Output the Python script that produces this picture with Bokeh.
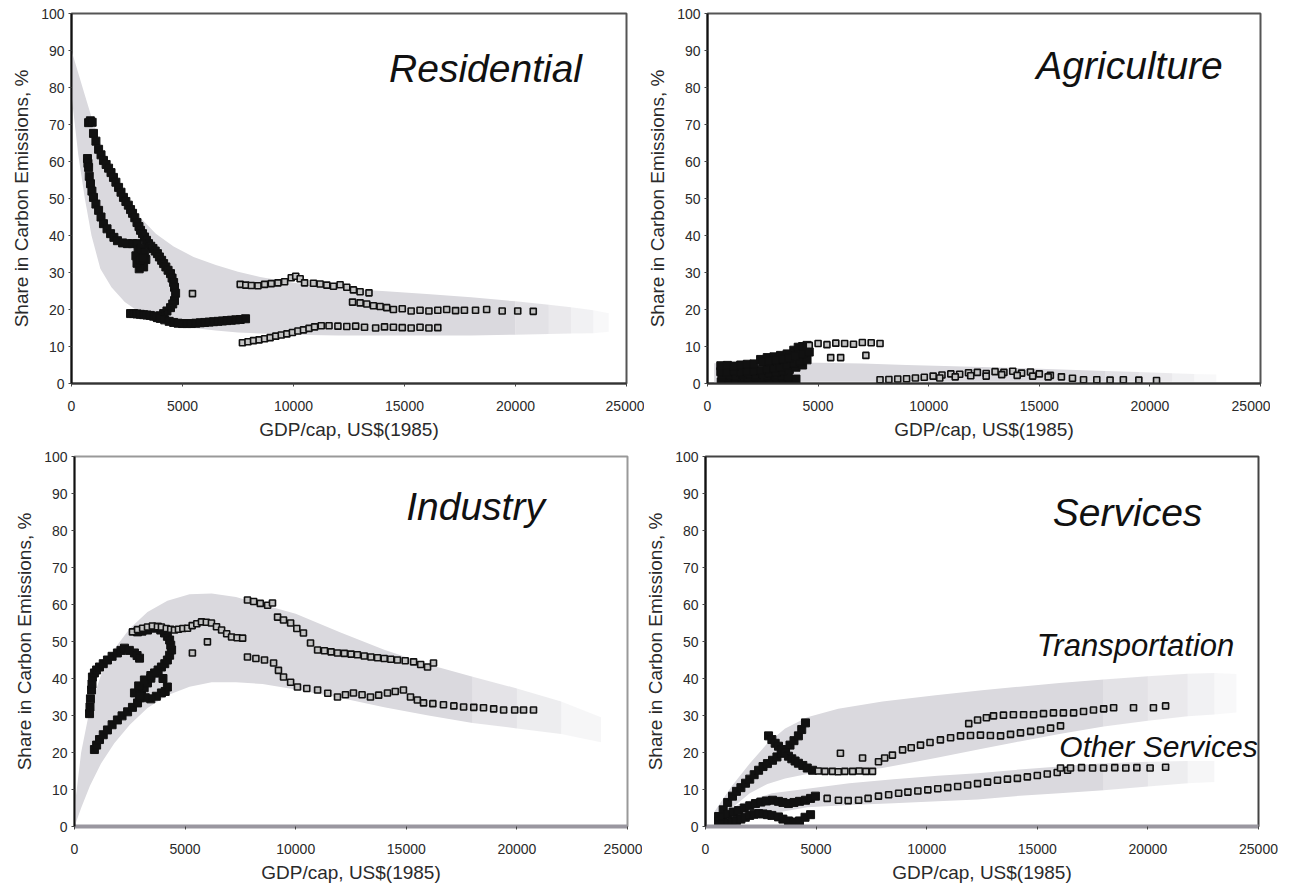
from bokeh.plotting import figure
from bokeh.layouts import column, row
from bokeh.models import Range1d, FixedTicker, Label
from bokeh.embed import file_html
from bokeh.resources import INLINE

# ---------------- axes ----------------
x_ticks = [0, 5000, 10000, 15000, 20000, 25000]
y_ticks = [0, 10, 20, 30, 40, 50, 60, 70, 80, 90, 100]
x_title = "GDP/cap, US$(1985)"
y_title = "Share in Carbon Emissions, %"

# ---------------- Residential ----------------
res_band_x = [0, 300, 600, 900, 1300, 1800, 2400, 3000, 3800, 4600, 5500, 6500, 7500, 8500,
              10000, 12000, 14000, 16000, 18000, 20000, 21500, 22500, 23500, 24200]
res_band_hi = [90, 84, 78, 72, 65, 58, 51, 45.5, 40.5, 37, 34.2, 32, 30.2, 28.8,
               27.2, 25.7, 25, 24.2, 23.3, 22.2, 21.3, 20.6, 19.8, 19]
res_band_lo = [78, 62, 50, 40, 31, 26, 22, 19.5, 17.5, 16, 15, 14.3, 13.8, 13.5,
               13.2, 13, 13, 13, 13, 13.2, 13.4, 13.5, 13.6, 14]

res_a_x = [770, 850, 930, 990, 1100, 1220, 1330, 1440, 1560, 1670, 1780, 1890, 2000, 2120, 2230,
           2340, 2450, 2560, 2660, 2750, 2850, 2950, 3040, 3110, 3200, 3290, 3380, 3470, 3570,
           3670, 3770, 3870, 3960, 4060, 4150, 4250, 4350, 4460, 4530, 4600, 4640, 4690, 4640,
           4560, 4460, 4300, 4150, 4000, 3870]
res_a_y = [70.5, 71, 70.6, 67.6, 65.5, 63.3, 61.8, 60.3, 59.2, 58.2, 57, 55.7, 54.4, 53, 51.7,
           50.3, 49.2, 48.2, 47, 46, 44.8, 43.5, 42.4, 41.4, 40.5, 39.6, 38.7, 37.8, 37.1,
           36.5, 35.8, 35.1, 34.2, 33.3, 32.4, 31.5, 30.6, 29.7, 28.5, 27.3, 26, 24.4, 22.4,
           21.5, 20.5, 19.6, 18.9, 18.3, 17.8]
res_b_x = [720, 740, 770, 800, 855, 920, 990, 1100, 1220, 1330, 1440, 1600, 1760, 1910, 2070,
           2300, 2520, 2750, 2970, 2900, 3000, 3150, 3300, 3350, 3250, 3050, 2950, 3100, 3200]
res_b_y = [60.8, 59.5, 58.4, 56, 54, 52, 50.3, 48.5, 46.8, 45, 43.2, 41.8, 40.5, 39.5, 38.6,
           38, 37.8, 37.8, 37.8, 34.5, 36, 36.5, 35.5, 33.5, 31.5, 31, 32.5, 33.5, 34]
res_c_x = [2660, 2800, 2950, 3100, 3250, 3400, 3550, 3700, 3850, 4000, 4200, 4400, 4600, 4800,
           5000, 5200, 5400, 5600, 5800, 6000, 6200, 6400, 6600, 6800, 7000, 7200, 7400, 7600, 7840]
res_c_y = [18.9, 18.9, 18.8, 18.7, 18.6, 18.5, 18.4, 18.2, 18, 17.6, 17.2, 16.8, 16.5, 16.3,
           16.2, 16.2, 16.2, 16.3, 16.4, 16.5, 16.6, 16.7, 16.8, 16.9, 17, 17.1, 17.2, 17.3, 17.5]
res_d_x = [7600, 7850, 8100, 8400, 8700, 9000, 9300, 9600, 9900, 10100, 10300, 10500, 10900,
           11200, 11500, 11800, 12100, 12400, 12700, 13000, 13400]
res_d_y = [26.8, 26.6, 26.5, 26.4, 26.8, 27.0, 27.2, 27.5, 28.6, 29.0, 28.3, 27.2, 27.1,
           26.9, 26.6, 26.3, 26.7, 26.0, 25.3, 24.8, 24.5]
res_e_x = [12660, 13000, 13300, 13600, 13900, 14200, 14500, 14900, 15300, 15700, 16100, 16500,
           16900, 17300, 17700, 18200, 18700, 19400, 20100, 20800]
res_e_y = [22.0, 21.8, 21.5, 21.0, 20.8, 20.5, 20.0, 20.2, 19.6, 19.8, 19.6, 19.8, 20.0,
           19.7, 19.8, 19.8, 20.0, 19.6, 19.6, 19.5]
res_f_x = [7700, 7950, 8200, 8450, 8700, 8950, 9200, 9450, 9700, 9950, 10200, 10450, 10700,
           10950, 11250, 11600, 12000, 12400, 12800, 13200, 13700, 14100, 14500, 14900, 15300,
           15700, 16100, 16500]
res_f_y = [11.0, 11.3, 11.6, 11.8, 12.1, 12.4, 12.8, 13.1, 13.4, 13.8, 14.2, 14.5, 14.9,
           15.3, 15.6, 15.6, 15.5, 15.4, 15.5, 15.2, 15.0, 15.3, 15.2, 15.1, 15.0, 15.2, 15.0, 15.1]
res_g_x = [5450]
res_g_y = [24.3]

# ---------------- Agriculture ----------------
agr_band_x = [300, 1000, 3000, 5000, 7000, 9000, 12000, 15000, 18000, 19500, 21000, 22000, 23000]
agr_band_hi = [5.5, 5.7, 5.7, 5.6, 5.4, 5.0, 4.5, 4.0, 3.4, 3.1, 2.8, 2.6, 2.4]
agr_band_lo = [0.3, 0.3, 0.4, 0.5, 0.5, 0.5, 0.5, 0.5, 0.5, 0.5, 0.5, 0.5, 0.5]

agr_a_x = [600, 900, 1200, 1500, 1800, 2100, 2400, 2700, 3000, 3300, 3600, 3900, 4100, 4300, 4500]
agr_a_y = [4.8, 4.9, 4.7, 5.0, 5.2, 5.3, 6.5, 7.0, 7.2, 7.6, 8.0, 9.0, 9.8, 10.0, 10.3]
agr_b_x = [600, 900, 1200, 1500, 1800, 2100, 2400, 2700, 3000, 3300, 3600, 3900, 4200, 4500]
agr_b_y = [3.2, 3.0, 3.4, 3.1, 3.3, 3.5, 3.6, 4.0, 4.3, 4.5, 5.0, 5.5, 6.0, 6.4]
agr_c_x = [650, 950, 1250, 1550, 1850, 2150, 2450, 2750, 3050, 3350, 3650]
agr_c_y = [1.2, 1.5, 1.0, 1.4, 1.6, 1.8, 1.5, 1.9, 2.2, 2.0, 1.8]
agr_g_x = [620, 900, 1180, 1460, 1740, 2020, 2300, 2580, 2860, 3140, 3420, 3700, 4000]
agr_g_y = [0.4, 0.5, 0.3, 0.6, 0.4, 0.5, 0.7, 0.5, 0.6, 0.8, 0.5, 0.9, 1.2]
agr_h_x = [700, 1000, 1300, 1600, 1900, 2200, 2500, 2800, 3100, 3400, 3700, 4000, 4300]
agr_h_y = [2.2, 2.4, 2.1, 2.5, 2.6, 2.3, 2.7, 2.9, 3.1, 3.4, 3.8, 4.4, 5.0]
agr_i_x = [2500, 2800, 3100, 3400, 3700, 4000, 4300, 4600]
agr_i_y = [5.8, 6.0, 6.3, 6.6, 7.0, 7.5, 8.0, 8.5]
agr_d_x = [4600, 5000, 5400, 5800, 6200, 6600, 7000, 7400, 7800, 5570, 6020, 7160]
agr_d_y = [10.3, 10.8, 10.5, 10.9, 10.8, 10.6, 11.1, 11.0, 10.8, 7.0, 7.0, 7.6]
agr_e_x = [7800, 8200, 8600, 9000, 9400, 9800, 10200, 10600, 11000, 11400, 11800, 12200, 12600,
           13000, 13400, 13800, 14200, 14600, 15000, 15500, 16000, 16500, 17000, 17600, 18200,
           18800, 19500, 20300]
agr_e_y = [1.0, 1.1, 1.2, 1.3, 1.5, 1.7, 2.0, 2.3, 2.6, 2.5, 2.9, 3.0, 2.7, 3.2, 3.0, 3.3,
           2.8, 3.1, 2.6, 2.2, 1.8, 1.4, 1.0, 1.0, 0.9, 1.0, 0.9, 0.8]
agr_f_x = [10500, 11200, 11900, 12600, 13300, 14000, 14700, 15400]
agr_f_y = [1.5, 1.8, 2.1, 2.0, 2.4, 2.2, 2.0, 1.8]

# ---------------- Industry ----------------
ind_band_x = [0, 300, 700, 1200, 1800, 2500, 3300, 4200, 5200, 6200, 7300, 8500, 10000, 12000,
              14000, 16000, 18000, 20000, 22000, 23800]
ind_band_hi = [5, 20, 32, 41, 48, 53.5, 58, 61, 62.8, 63, 62, 60, 57.5, 52.5,
               47.8, 43.8, 40.5, 37.3, 33.8, 29.5]
ind_band_lo = [0, 5, 11, 17, 22.5, 27.5, 32, 35.5, 37.8, 39, 39, 38.5, 37, 34.8,
               32.2, 30, 28, 26.5, 25, 22.8]

ind_a_x = [900, 1000, 1130, 1300, 1490, 1700, 1940, 2150, 2400, 2620, 2850, 2950, 3030, 3150,
           3300, 3450, 3620, 3780, 3930, 4080, 4200, 4300, 4390, 4350, 4300, 4200, 4070, 3900,
           3750, 3550, 3300, 3050, 2850]
ind_a_y = [20.8, 22.0, 23.5, 24.8, 26.1, 27.5, 28.8, 29.9, 31.0, 32.2, 33.4, 34.8, 36.1, 37.5,
           38.8, 40.1, 41.5, 42.3, 43.1, 44.0, 45.0, 46.3, 47.7, 49.0, 50.4, 51.4, 52.3, 53.1,
           53.9, 53.6, 53.1, 52.8, 52.6]
ind_b_x = [2710, 2900, 3160, 3450, 3750, 4000, 4200, 4100, 3930, 3700, 3450, 3200, 2950,
           680, 700, 720, 770, 790, 810, 900, 1000, 1130, 1300, 1490, 1700, 1940, 2100, 2260,
           2480, 2710, 2830, 2940]
ind_b_y = [36.1, 38.0, 39.6, 40.8, 41.5, 40.0, 37.7, 36.5, 36.1, 35.2, 34.5, 34.8, 35.3,
           30.5, 32.3, 34.5, 36.9, 38.5, 40.4, 41.5, 42.3, 43.1, 44.0, 45.0, 46.0, 46.9, 47.6,
           48.2, 47.6, 46.9, 46.2, 45.5]
ind_c_x = [2620, 2850, 3080, 3300, 3520, 3750, 3930, 4150, 4350, 4520, 4700, 4900, 5110, 5320,
           5530, 5740, 5960, 6190, 6420, 6650, 6880, 7100, 7350, 7600]
ind_c_y = [52.6, 53.2, 53.6, 53.9, 54.2, 54.0, 53.9, 53.5, 53.3, 53.1, 53.3, 53.5, 53.6, 54.3,
           54.8, 55.3, 55.2, 55.0, 54.0, 53.1, 52.1, 51.2, 51.0, 50.9]
ind_p_x = [6010, 5330]
ind_p_y = [49.9, 46.9]
ind_d_x = [7820, 8100, 8400, 8730, 8950, 9180, 9450, 9770, 10050, 10350, 10670, 10990, 11300,
           11600, 11890, 12200, 12500, 12790, 13100, 13400, 13700, 14000, 14300, 14600, 14950,
           15330, 15650, 15960, 16230]
ind_d_y = [61.2, 60.8, 60.3, 59.8, 60.4, 56.6, 55.8, 55.0, 53.5, 52.3, 49.6, 47.7, 47.5,
           47.2, 46.9, 46.8, 46.6, 46.4, 46.1, 45.8, 45.6, 45.4, 45.2, 45.0, 44.8,
           44.5, 43.8, 43.1, 44.2]
ind_e_x = [7820, 8200, 8590, 9000, 9220, 9450, 9770, 10080, 10500, 10990, 11450, 11890, 12250,
           12610, 13000, 13380, 13750, 14150, 14500, 14870, 15190, 15500, 15780, 16200, 16680,
           17150, 17590, 18050, 18490, 18950, 19400, 19900, 20300, 20750]
ind_e_y = [45.8, 45.4, 45.0, 44.2, 42.2, 40.4, 39.0, 37.7, 37.3, 36.9, 36.0, 35.0, 35.6,
           36.1, 35.6, 35.0, 35.5, 36.1, 36.5, 36.9, 35.0, 34.2, 33.4, 33.2, 32.9,
           32.6, 32.3, 32.2, 32.1, 31.8, 31.5, 31.5, 31.5, 31.5]

# ---------------- Services ----------------
srv_tb_x = [400, 1200, 2000, 2800, 3600, 4600, 6000, 8000, 10400, 12500, 14200, 16000, 18000,
            20000, 21800, 23000, 24000]
srv_tb_hi = [4, 11, 17, 22.5, 26.5, 29.5, 31.8, 33.8, 35.5, 36.8, 37.8, 38.8, 39.7,
             40.6, 41.3, 41.5, 41.2]
srv_tb_lo = [1, 5, 9, 11.5, 13, 14.2, 14.4, 15.8, 18.5, 21, 23, 25, 27,
             28.6, 29.8, 30.3, 30.8]
srv_ob_x = [400, 1500, 3000, 4600, 6500, 8500, 10500, 12300, 14000, 16000, 18000, 20000,
            21800, 23000]
srv_ob_hi = [2, 6, 9, 10.2, 11.7, 12.8, 13.7, 14.4, 15.3, 16.2, 17.1, 17.5, 17.7, 17.7]
srv_ob_lo = [0, 1.5, 3.5, 5.2, 5.8, 6.3, 6.8, 7.3, 8.2, 9.0, 9.8, 10.8, 11.7, 12]

srv_t1_x = [590, 800, 1000, 1220, 1400, 1600, 1810, 2000, 2200, 2400, 2600, 2800, 3030, 3230,
            3420, 3620, 3820, 4000, 4200, 4350, 4520]
srv_t1_y = [2.7, 4.5, 6.5, 8.2, 9.5, 10.5, 11.7, 12.8, 14.0, 15.2, 16.2, 17.0, 17.9, 18.8,
            19.8, 20.7, 22.0, 23.2, 24.5, 26.2, 28.0]
srv_t2_x = [2850, 3000, 3150, 3300, 3450, 3600, 3750, 3900, 4050, 4200, 4400, 4600, 4840]
srv_t2_y = [24.5, 23.5, 22.5, 21.7, 20.8, 19.9, 19.0, 18.3, 17.7, 17.1, 16.5, 15.8, 15.2]
srv_t3_x = [5100, 5400, 5740, 6000, 6300, 6650, 6950, 7250, 7550, 6100, 7100,
            7820, 8100, 8450, 8910, 9300, 9720, 10150, 10620, 11080, 11530, 11980, 12430,
            12880, 13340, 13790, 14240, 14700, 15150, 15600, 16050]
srv_t3_y = [15.0, 14.9, 14.9, 14.8, 14.9, 14.9, 15.0, 14.9, 14.9, 19.8, 18.5,
            17.5, 18.5, 19.3, 20.7, 21.3, 22.0, 22.7, 23.4, 24.0, 24.5, 24.6, 24.7,
            24.6, 24.5, 24.9, 25.3, 25.7, 26.1, 26.6, 27.2]
srv_t4_x = [11900, 12300, 12700, 13020, 13470, 13920, 14380, 14830, 15280, 15730, 16180,
            16640, 17090, 17540, 18000, 18450, 19350, 20250, 20800]
srv_t4_y = [27.8, 28.8, 29.4, 29.9, 30.1, 30.2, 30.2, 30.2, 30.5, 30.7, 30.7,
            30.7, 31.1, 31.5, 31.8, 32.1, 32.1, 32.1, 32.6]
srv_o1_x = [590, 770, 1000, 1250, 1490, 1750, 2000, 2260, 2500, 2750, 3030, 3300, 3500, 3750,
            4000, 4250, 4520, 4750, 4970]
srv_o1_y = [1.5, 2.5, 3.3, 3.9, 4.3, 5.0, 5.6, 6.2, 6.6, 6.9, 7.1, 6.8, 6.5, 6.2,
            6.5, 6.8, 7.1, 7.6, 8.2]
srv_o2_x = [600, 800, 1000, 1200, 1400, 1600, 1800, 2000, 2200, 2400, 2600, 2800, 3000, 3300,
            3500, 3750, 4000, 4250, 4500, 4750]
srv_o2_y = [0.5, 0.8, 1.0, 1.3, 1.6, 2.0, 2.5, 3.0, 3.3, 3.5, 3.4, 3.2, 3.0, 2.6,
            2.0, 1.5, 1.2, 1.5, 2.5, 3.2]
srv_o3_x = [5500, 6010, 6450, 6920, 7350, 7820, 8280, 8730, 9150, 9600, 10050, 10500, 10950,
            11400, 11850, 12300, 12750, 13200, 13650, 14100, 14550, 15000, 15450, 15900, 16370]
srv_o3_y = [7.6, 7.1, 7.0, 7.1, 7.6, 8.2, 8.6, 9.0, 9.3, 9.6, 9.9, 10.2, 10.5,
            10.8, 11.2, 11.6, 12.0, 12.5, 12.8, 13.0, 13.4, 13.8, 14.2, 14.6, 15.2]
srv_o4_x = [16050, 16500, 17000, 17500, 18000, 18500, 19000, 19500, 20100, 20800]
srv_o4_y = [15.8, 15.8, 15.9, 15.8, 15.8, 15.9, 15.8, 15.9, 15.8, 16.0]

# ---------------- styling ----------------
FONT = "Liberation Sans"
BAND = "#dad9de"
TXT = "#2a2a2a"


def make_fig(width, height, mbl, mbr, mbt, mbb, frame_col, xaxis_col, xaxis_w):
    p = figure(width=width, height=height, x_range=Range1d(0, 25000), y_range=Range1d(0, 100),
               output_backend="svg", toolbar_location=None,
               min_border_left=mbl, min_border_right=mbr, min_border_top=mbt, min_border_bottom=mbb)
    p.grid.visible = False
    p.outline_line_color = frame_col
    p.outline_line_width = 2
    p.background_fill_color = "white"
    p.border_fill_color = "white"
    for ax in (p.xaxis[0], p.yaxis[0]):
        ax.major_label_text_font = FONT
        ax.major_label_text_font_size = "14px"
        ax.major_label_text_color = TXT
        ax.axis_label_text_font = FONT
        ax.axis_label_text_font_size = "19px"
        ax.axis_label_text_font_style = "normal"
        ax.axis_label_text_color = TXT
        ax.minor_tick_line_color = None
        ax.major_tick_in = 0
        ax.major_tick_out = 3
        ax.major_tick_line_color = "#444"
    p.xaxis.ticker = FixedTicker(ticks=x_ticks)
    p.yaxis.ticker = FixedTicker(ticks=y_ticks)
    p.xaxis.axis_label = x_title
    p.yaxis.axis_label = y_title
    p.xaxis.axis_line_color = xaxis_col
    p.xaxis.axis_line_width = xaxis_w
    p.yaxis.axis_line_color = "#111"
    p.yaxis.axis_line_width = 2
    p.xaxis.major_label_standoff = 14
    p.xaxis.axis_label_standoff = 5
    p.yaxis.major_label_standoff = 4
    p.yaxis.axis_label_standoff = 6
    return p


def band(p, xs, lo, hi, fade_from):
    last = max(i for i, x in enumerate(xs) if x <= fade_from)
    p.varea(x=xs[:last + 1], y1=lo[:last + 1], y2=hi[:last + 1], fill_color=BAND)
    n = len(xs) - 1 - last
    for k, i in enumerate(range(last, len(xs) - 1)):
        a = 0.85 * (1 - (k + 0.5) / (n + 0.5))
        p.varea(x=xs[i:i + 2], y1=lo[i:i + 2], y2=hi[i:i + 2], fill_color=BAND, fill_alpha=a)


def dense(p, xs, ys):
    p.scatter(xs, ys, marker="square", size=8, fill_color="#111", line_color="#111", line_width=1)


def sparse(p, xs, ys):
    p.scatter(xs, ys, marker="square", size=6, fill_color="#c4c4c4", line_color="#111",
              line_width=1.6)


def title(p, x, y, text, size):
    p.add_layout(Label(x=x, y=y, text=text, text_align="center", text_baseline="middle",
                       text_font=FONT, text_font_style="italic", text_font_size=size,
                       text_color="#111"))


# Residential
p1 = make_fig(644, 447, 71, 18, 13, 64, "#555", "#333", 2)
band(p1, res_band_x, res_band_lo, res_band_hi, 20000)
dense(p1, res_a_x, res_a_y)
dense(p1, res_b_x, res_b_y)
dense(p1, res_c_x, res_c_y)
sparse(p1, res_d_x, res_d_y)
sparse(p1, res_e_x, res_e_y)
sparse(p1, res_f_x, res_f_y)
sparse(p1, res_g_x, res_g_y)
title(p1, 18650, 85.1, "Residential", "39px")

# Agriculture
p2 = make_fig(626, 447, 63, 10, 13, 64, "#555", "#333", 2)
band(p2, agr_band_x, agr_band_lo, agr_band_hi, 18000)
dense(p2, agr_g_x, agr_g_y)
dense(p2, agr_c_x, agr_c_y)
dense(p2, agr_h_x, agr_h_y)
dense(p2, agr_b_x, agr_b_y)
dense(p2, agr_a_x, agr_a_y)
dense(p2, agr_i_x, agr_i_y)
sparse(p2, agr_d_x, agr_d_y)
sparse(p2, agr_e_x, agr_e_y)
sparse(p2, agr_f_x, agr_f_y)
title(p2, 19080, 86.0, "Agriculture", "39px")

# Industry
p3 = make_fig(642, 439, 74, 15, 9, 60, "#999", "#9a97a0", 4)
band(p3, ind_band_x, ind_band_lo, ind_band_hi, 18000)
dense(p3, ind_a_x, ind_a_y)
dense(p3, ind_b_x, ind_b_y)
sparse(p3, ind_c_x, ind_c_y)
sparse(p3, ind_p_x, ind_p_y)
sparse(p3, ind_d_x, ind_d_y)
sparse(p3, ind_e_x, ind_e_y)
title(p3, 18130, 86.5, "Industry", "39px")

# Services
p4 = make_fig(636, 439, 63, 20, 9, 60, "#444", "#9a97a0", 4)
band(p4, srv_tb_x, srv_tb_lo, srv_tb_hi, 18000)
band(p4, srv_ob_x, srv_ob_lo, srv_ob_hi, 18000)
dense(p4, srv_t1_x, srv_t1_y)
dense(p4, srv_t2_x, srv_t2_y)
sparse(p4, srv_t3_x, srv_t3_y)
sparse(p4, srv_t4_x, srv_t4_y)
dense(p4, srv_o1_x, srv_o1_y)
dense(p4, srv_o2_x, srv_o2_y)
sparse(p4, srv_o3_x, srv_o3_y)
sparse(p4, srv_o4_x, srv_o4_y)
title(p4, 19080, 84.9, "Services", "39px")
title(p4, 19440, 48.9, "Transportation", "31px")
title(p4, 20480, 21.6, "Other Services", "30px")

layout = column(row(p1, p2), row(p3, p4))
open("out.html", "w").write(file_html(layout, INLINE))
